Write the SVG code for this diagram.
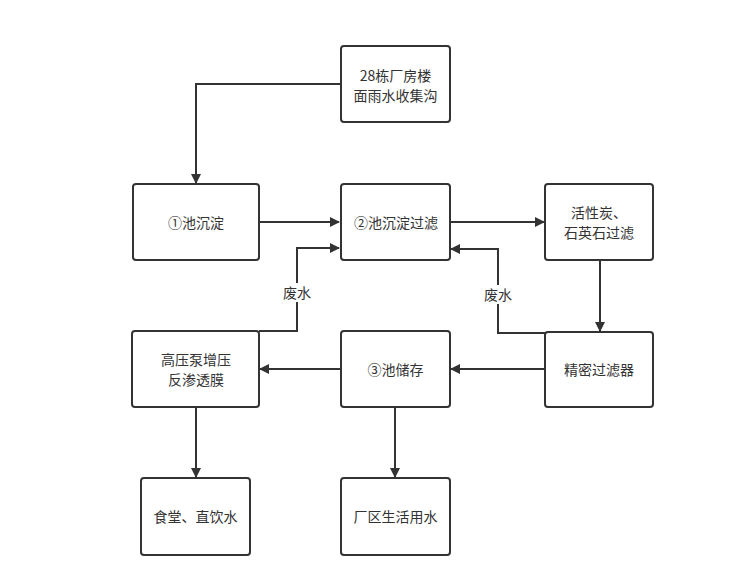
<svg xmlns="http://www.w3.org/2000/svg" width="743" height="578" viewBox="0 0 743 578">
<style>
.box{fill:#fff;stroke:#333;stroke-width:2}
.t{font-family:"Noto Sans CJK SC","Liberation Sans",sans-serif;font-size:14px;fill:#333;text-anchor:middle}
.c{fill:none;stroke:#333;stroke-width:2}
</style>
<defs>
<marker id="a" markerWidth="10" markerHeight="10" refX="9" refY="5" orient="auto" markerUnits="userSpaceOnUse">
<path d="M0,0 L10,5 L0,10 Z" fill="#333"/>
</marker>
</defs>
<rect width="743" height="578" fill="#fff"/>
<g id="n1"><rect class="box" x="341" y="46" width="109" height="76" rx="3"/><text class="t" x="395.5" y="80.5">28栋厂房楼</text><text class="t" x="395.5" y="100.5">面雨水收集沟</text></g>
<g id="n2"><rect class="box" x="133" y="184" width="126" height="76" rx="3"/><text class="t" x="196" y="228">①池沉淀</text></g>
<g id="n3"><rect class="box" x="341" y="184" width="109" height="76" rx="3"/><text class="t" x="396" y="228">②池沉淀过滤</text></g>
<g id="n4"><rect class="box" x="545" y="184" width="108" height="76" rx="3"/><text class="t" x="599" y="218">活性炭、</text><text class="t" x="599" y="238">石英石过滤</text></g>
<g id="n5"><rect class="box" x="545" y="332" width="108" height="75" rx="3"/><text class="t" x="599" y="375">精密过滤器</text></g>
<g id="n6"><rect class="box" x="341" y="331" width="109" height="76" rx="3"/><text class="t" x="395.5" y="375">③池储存</text></g>
<g id="n7"><rect class="box" x="132" y="331" width="127" height="76" rx="3"/><text class="t" x="196" y="365">高压泵增压</text><text class="t" x="196" y="385">反渗透膜</text></g>
<g id="n8"><rect class="box" x="141" y="478" width="109" height="77" rx="3"/><text class="t" x="195.5" y="522">食堂、直饮水</text></g>
<g id="n9"><rect class="box" x="341" y="478" width="109" height="77" rx="3"/><text class="t" x="395.5" y="522">厂区生活用水</text></g>
<g id="connectors">
<path class="c" d="M341,84 H196 V183" marker-end="url(#a)"/>
<path class="c" d="M259,222 H339" marker-end="url(#a)"/>
<path class="c" d="M259,331 H297 V248 H339" marker-end="url(#a)"/>
<path class="c" d="M450,222 H544" marker-end="url(#a)"/>
<path class="c" d="M600,260 V331" marker-end="url(#a)"/>
<path class="c" d="M545,333 H498 V249 H451" marker-end="url(#a)"/>
<path class="c" d="M545,369 H451" marker-end="url(#a)"/>
<path class="c" d="M341,369 H260" marker-end="url(#a)"/>
<path class="c" d="M196,407 V477" marker-end="url(#a)"/>
<path class="c" d="M395,407 V477" marker-end="url(#a)"/>
<rect x="281" y="283" width="32" height="19" fill="#fff"/>
<text class="t" x="297" y="297.5">废水</text>
<rect x="482" y="285" width="32" height="19" fill="#fff"/>
<text class="t" x="498" y="299.5">废水</text>
</g>
</svg>
